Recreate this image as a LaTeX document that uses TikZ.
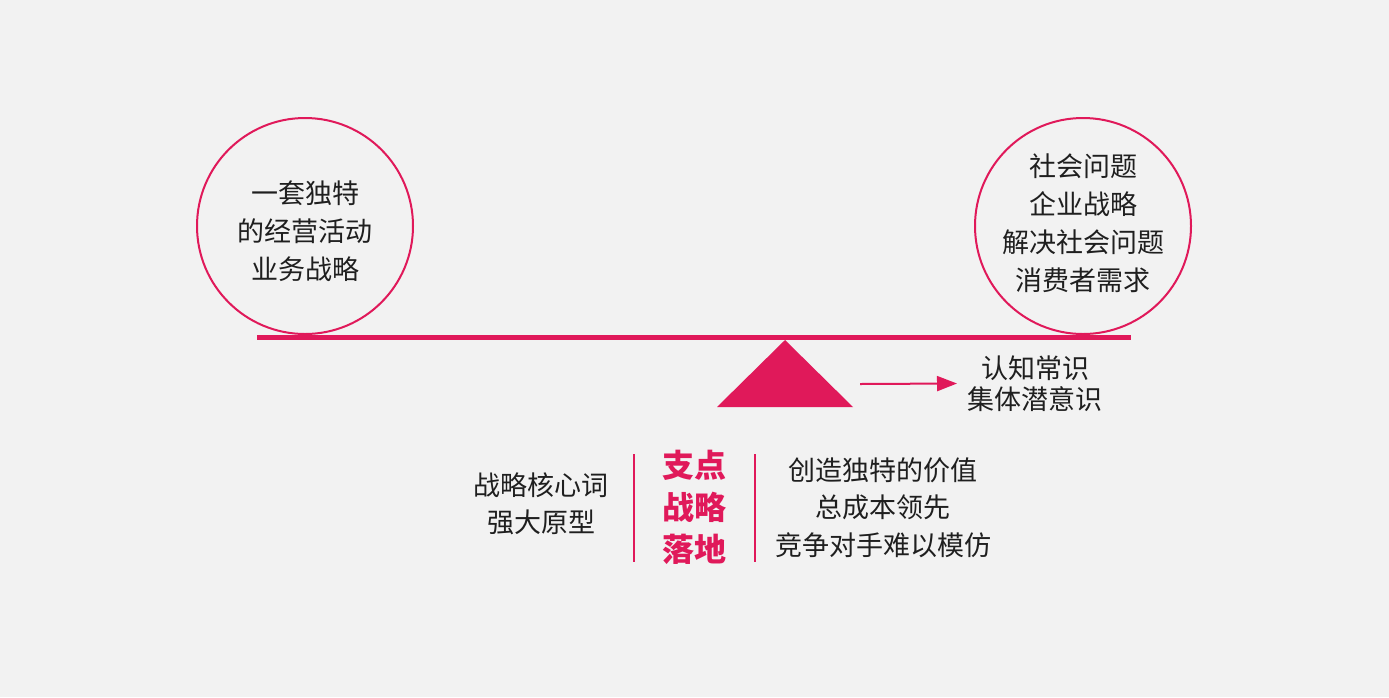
\documentclass[tikz,border=0pt]{standalone}
\usepackage{fontspec}
\setmainfont{Noto Sans CJK SC}
\usetikzlibrary{arrows.meta,positioning}
\definecolor{lever red}{HTML}{E0195A}
\definecolor{paper}{HTML}{F2F2F2}
\tikzset{
    lever color/.style={lever red},
    weight circle/.style={circle,draw=lever red,line width=2pt,minimum size=216pt,inner sep=0pt},
    plain text/.style={align=center,text=black!88,font=\fontsize{27}{38}\selectfont},
    pivot text/.style={align=center,text=lever red,font=\bfseries\fontsize{32}{42}\selectfont},
    divider/.style={lever color,line width=2.5pt},
    arr/.style={-{Triangle[length=20pt,width=15pt]},lever color,line width=2pt},
}

\begin{document}
\begin{tikzpicture}[x=1pt,y=-1pt]

        \fill[paper] (0,0) rectangle (1389,697);
        \useasboundingbox (0,0) rectangle (1389,697);

        % the two weights and the beam
        \node[weight circle] (left weight) at (305,226) {};
        \node[weight circle] (right weight) at (1083,226) {};
        \fill[lever color] (257,334.5) rectangle (1131,339.5);
        \fill[lever color] (785,340) -- (853,407) -- (717,407) -- cycle;

        \node[plain text] (business) at (305,231) {一套独特\\的经营活动\\业务战略};
        \node[plain text] (society) at (1083,223) {社会问题\\企业战略\\解决社会问题\\消费者需求};

        \coordinate (arrow tail) at (860,384);
        \node[plain text, font=\fontsize{27}{31}\selectfont] (common sense) at (1035,383.5) {认知常识\\集体潜意识};
        \draw[arr] (arrow tail) -- (common sense.west -| 957,0);

        % the pivot
        \node[pivot text] (pivot) at (694,507) {支点\\战略\\落地};
        \coordinate (div a top) at (634,454);
        \coordinate (div a bottom) at (634,562);
        \coordinate (div b top) at (755,454);
        \coordinate (div b bottom) at (755,562);
        \draw[divider] (div a top) -- (div a bottom);
        \draw[divider] (div b top) -- (div b bottom);

        \node[plain text, font=\fontsize{27}{37}\selectfont] (core words) at (541,503.5) {战略核心词\\强大原型};
        \node[plain text, font=\fontsize{27}{37.5}\selectfont] (value) at (883,507.5) {创造独特的价值\\总成本领先\\竞争对手难以模仿};

    \end{tikzpicture}
\end{document}
